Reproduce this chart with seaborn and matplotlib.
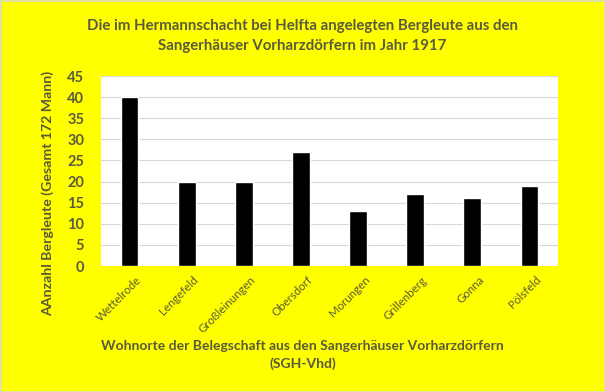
import matplotlib
matplotlib.use("Agg")
import matplotlib.pyplot as plt
import matplotlib.transforms as mtransforms
import seaborn as sns
import pandas as pd

orte = ["Wettelrode", "Lengefeld", "Großleinungen", "Obersdorf", "Morungen",
        "Grillenberg", "Gonna", "Pölsfeld"]
anzahl = [40, 20, 20, 27, 13, 17, 16, 19]
yticks = [0, 5, 10, 15, 20, 25, 30, 35, 40, 45]

title = "Die im Hermannschacht bei Helfta angelegten Bergleute aus den\nSangerhäuser Vorharzdörfern im Jahr 1917"
xlabel = "Wohnorte der Belegschaft aus den Sangerhäuser Vorharzdörfern\n(SGH-Vhd)"
ylabel = "AAnzahl Bergleute (Gesamt 172 Mann)"

sns.set_style("white")
plt.rcParams['font.family'] = ['Lato', 'DejaVu Sans']

txt = '#5a5a3c'
df = pd.DataFrame({"Ort": orte, "Anzahl": anzahl})

fig = plt.figure(figsize=(6.05, 3.92), dpi=100)
fig.patch.set_facecolor('#ffff00')
ax = fig.add_axes([101/605, 1-266/392, 457/605, 190/392])
sns.barplot(data=df, x="Ort", y="Anzahl", color='black', width=0.31,
            saturation=1, ax=ax, zorder=3)
ax.set_facecolor('white')
ax.set_ylim(0, 45)
ax.set_yticks(yticks)
ax.yaxis.grid(True, color='#d9d9d9', linewidth=0.8, zorder=0)
for s in ax.spines.values():
    s.set_visible(False)
ax.tick_params(axis='y', length=0, pad=12)
ax.tick_params(axis='x', length=0, pad=6)
ax.set_yticklabels([str(v) for v in yticks], fontsize=10.5, fontweight='bold', color=txt)
ax.set_xticks(range(len(orte)))
ax.set_xticklabels(orte, rotation=45, ha='right', rotation_mode='anchor',
                   fontsize=8.3, color=txt)
offset = mtransforms.ScaledTranslation(6/100, 0, fig.dpi_scale_trans)
for lab in ax.get_xticklabels():
    lab.set_transform(lab.get_transform() + offset)
ax.set_xlabel("")
ax.set_ylabel("")

fig.text(0.5, 1-36/392, title, ha='center', va='center', fontsize=10.8,
         fontweight='bold', color=txt, linespacing=1.6)
fig.text(0.5, 1-355/392, xlabel, ha='center', va='center', fontsize=10,
         fontweight='bold', color=txt, linespacing=1.5)
fig.text(48/605, 1-193/392, ylabel, ha='center', va='center', rotation=90,
         fontsize=10.2, fontweight='bold', color=txt)

border = plt.Rectangle((0.5/605, 0.5/392), 1-1/605, 1-1/392, transform=fig.transFigure,
                       fill=False, edgecolor='#e0e0a0', linewidth=1.5)
fig.patches.append(border)

fig.savefig("out.png", dpi=100, facecolor=fig.get_facecolor())
